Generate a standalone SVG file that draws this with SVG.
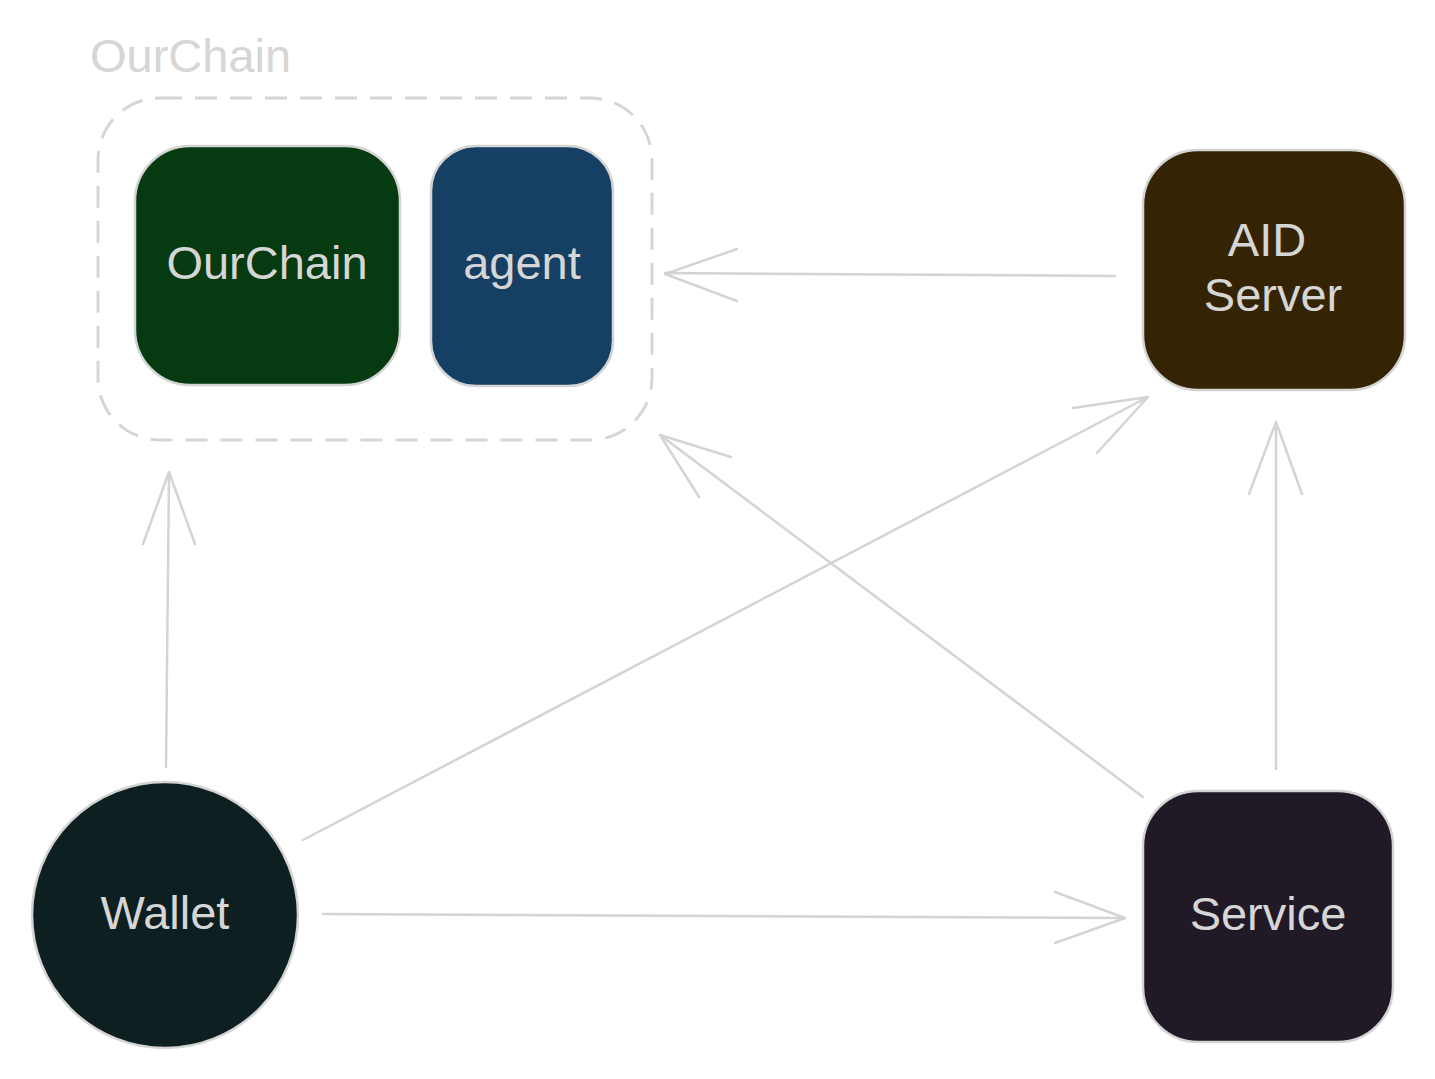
<svg xmlns="http://www.w3.org/2000/svg" width="1435" height="1079" viewBox="0 0 1435 1079">
<style>
.lbl{font-family:"Liberation Sans",Arial,sans-serif;font-size:47px;fill:#d6d6d6;text-anchor:middle}
.node{stroke:#d4d4d4;stroke-width:2.5}
.edge{stroke:#d4d4d4;stroke-width:2.5;fill:none;stroke-linecap:round;stroke-linejoin:round}
</style>
<rect width="1435" height="1079" fill="#ffffff"/>
<g id="cluster-ourchain">
<text x="90" y="72" font-family="Liberation Sans, Arial, sans-serif" font-size="47" fill="#d6d6d6">OurChain</text>
<rect x="98" y="98" width="554" height="342" rx="62" fill="none" stroke="#d6d6d6" stroke-width="3" stroke-dasharray="22 13"/>
</g>
<g id="node-ourchain">
<rect class="node" x="135" y="146" width="265" height="239" rx="55" fill="#063a10"/>
<text class="lbl" x="267" y="279">OurChain</text>
</g>
<g id="node-agent">
<rect class="node" x="431" y="146" width="182" height="240" rx="45" fill="#164063"/>
<text class="lbl" x="522" y="279">agent</text>
</g>
<g id="node-aid">
<rect class="node" x="1143" y="150" width="262" height="240" rx="55" fill="#352403"/>
<text class="lbl" x="1267" y="256">AID</text>
<text class="lbl" x="1273" y="311">Server</text>
</g>
<g id="node-wallet">
<circle class="node" cx="165" cy="915" r="133" fill="#0d1f20"/>
<text class="lbl" x="165" y="929">Wallet</text>
</g>
<g id="node-service">
<rect class="node" x="1143" y="791" width="250" height="251" rx="55" fill="#211a26"/>
<text class="lbl" x="1268" y="930">Service</text>
</g>
<g id="connectors">
<path class="edge" d="M1115 276 L665 273 M737 249 L665 274 L737 301"/>
<path class="edge" d="M303 840 L1148 397 M1073 408 L1148 397 L1097 453"/>
<path class="edge" d="M1143 797 L660 435 M731 457 L660 435 L699 497"/>
<path class="edge" d="M1276 769 L1276 422 M1249 494 L1276 422 L1302 494"/>
<path class="edge" d="M166 767 L169 472 M143 544 L169 472 L195 544"/>
<path class="edge" d="M323 914 L1125 918 M1055 892 L1125 918 L1055 943"/>
</g>
</svg>
